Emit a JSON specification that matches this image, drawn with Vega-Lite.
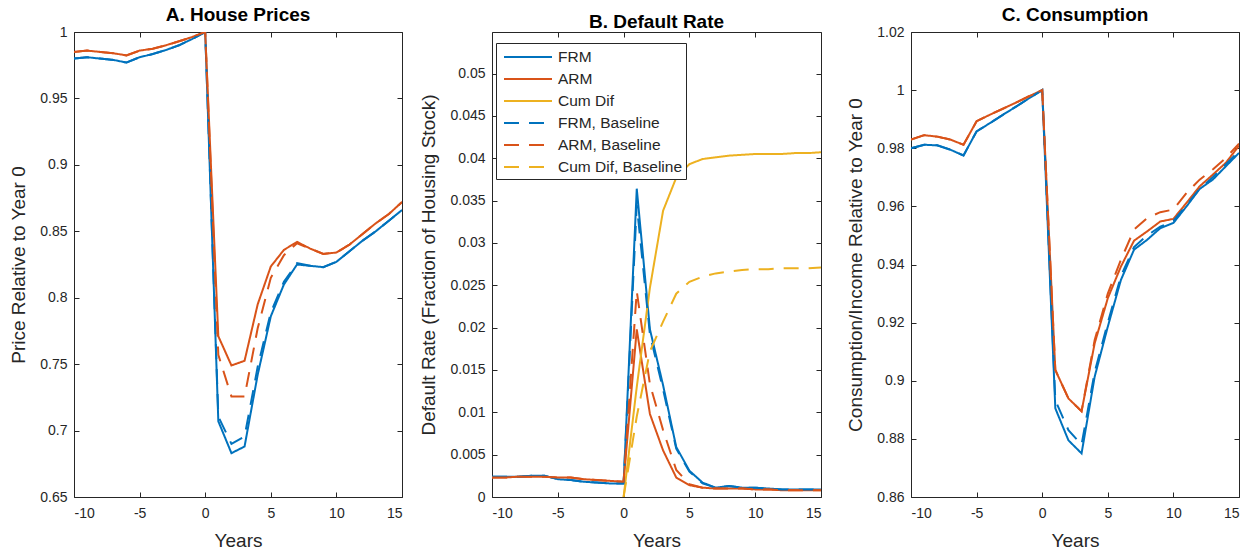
{
  "$schema": "https://vega.github.io/schema/vega-lite/v6.json",
  "background": "white",
  "padding": {"left": 9, "top": 5, "right": 0, "bottom": 0},
  "bounds": "flush",
  "spacing": 90,
  "config": {
    "font": "Liberation Sans",
    "view": {"stroke": "#262626", "strokeWidth": 1},
    "axis": {
      "domain": false,
      "grid": false,
      "ticks": true,
      "tickSize": -5,
      "tickColor": "#262626",
      "labelColor": "#262626",
      "labelFontSize": 14,
      "labelPadding": 12,
      "titleColor": "#262626",
      "titleFontSize": 19,
      "titleFontWeight": "normal"
    },
    "axisBottom": {"labelPadding": 14}
  },
  "datasets": {
    "A": [
      {"s":"FRM","x":-10,"y":0.980},{"s":"FRM","x":-9,"y":0.981},{"s":"FRM","x":-8,"y":0.980},{"s":"FRM","x":-7,"y":0.979},{"s":"FRM","x":-6,"y":0.977},{"s":"FRM","x":-5,"y":0.981},{"s":"FRM","x":-4,"y":0.9834},{"s":"FRM","x":-3,"y":0.9864},{"s":"FRM","x":-2,"y":0.990},{"s":"FRM","x":-1,"y":0.9947},{"s":"FRM","x":0,"y":1.0},{"s":"FRM","x":1,"y":0.707},{"s":"FRM","x":2,"y":0.683},{"s":"FRM","x":3,"y":0.688},{"s":"FRM","x":4,"y":0.742},{"s":"FRM","x":5,"y":0.786},{"s":"FRM","x":6,"y":0.810},{"s":"FRM","x":7,"y":0.825},{"s":"FRM","x":8,"y":0.824},{"s":"FRM","x":9,"y":0.823},{"s":"FRM","x":10,"y":0.827},{"s":"FRM","x":11,"y":0.835},{"s":"FRM","x":12,"y":0.843},{"s":"FRM","x":13,"y":0.850},{"s":"FRM","x":14,"y":0.858},{"s":"FRM","x":15,"y":0.866},
      {"s":"ARM","x":-10,"y":0.985},{"s":"ARM","x":-9,"y":0.986},{"s":"ARM","x":-8,"y":0.985},{"s":"ARM","x":-7,"y":0.984},{"s":"ARM","x":-6,"y":0.9824},{"s":"ARM","x":-5,"y":0.986},{"s":"ARM","x":-4,"y":0.9874},{"s":"ARM","x":-3,"y":0.990},{"s":"ARM","x":-2,"y":0.993},{"s":"ARM","x":-1,"y":0.9962},{"s":"ARM","x":0,"y":1.0},{"s":"ARM","x":1,"y":0.771},{"s":"ARM","x":2,"y":0.749},{"s":"ARM","x":3,"y":0.7525},{"s":"ARM","x":4,"y":0.795},{"s":"ARM","x":5,"y":0.8235},{"s":"ARM","x":6,"y":0.836},{"s":"ARM","x":7,"y":0.842},{"s":"ARM","x":8,"y":0.837},{"s":"ARM","x":9,"y":0.833},{"s":"ARM","x":10,"y":0.834},{"s":"ARM","x":11,"y":0.840},{"s":"ARM","x":12,"y":0.848},{"s":"ARM","x":13,"y":0.856},{"s":"ARM","x":14,"y":0.863},{"s":"ARM","x":15,"y":0.872},
      {"s":"FRM, Baseline","x":-10,"y":0.980},{"s":"FRM, Baseline","x":-9,"y":0.981},{"s":"FRM, Baseline","x":-8,"y":0.980},{"s":"FRM, Baseline","x":-7,"y":0.979},{"s":"FRM, Baseline","x":-6,"y":0.977},{"s":"FRM, Baseline","x":-5,"y":0.981},{"s":"FRM, Baseline","x":-4,"y":0.9834},{"s":"FRM, Baseline","x":-3,"y":0.9864},{"s":"FRM, Baseline","x":-2,"y":0.990},{"s":"FRM, Baseline","x":-1,"y":0.9947},{"s":"FRM, Baseline","x":0,"y":1.0},{"s":"FRM, Baseline","x":1,"y":0.7106},{"s":"FRM, Baseline","x":2,"y":0.690},{"s":"FRM, Baseline","x":3,"y":0.6955},{"s":"FRM, Baseline","x":4,"y":0.748},{"s":"FRM, Baseline","x":5,"y":0.789},{"s":"FRM, Baseline","x":6,"y":0.812},{"s":"FRM, Baseline","x":7,"y":0.826},{"s":"FRM, Baseline","x":8,"y":0.824},{"s":"FRM, Baseline","x":9,"y":0.823},{"s":"FRM, Baseline","x":10,"y":0.827},{"s":"FRM, Baseline","x":11,"y":0.835},{"s":"FRM, Baseline","x":12,"y":0.843},{"s":"FRM, Baseline","x":13,"y":0.850},{"s":"FRM, Baseline","x":14,"y":0.858},{"s":"FRM, Baseline","x":15,"y":0.866},
      {"s":"ARM, Baseline","x":-10,"y":0.985},{"s":"ARM, Baseline","x":-9,"y":0.986},{"s":"ARM, Baseline","x":-8,"y":0.985},{"s":"ARM, Baseline","x":-7,"y":0.984},{"s":"ARM, Baseline","x":-6,"y":0.9824},{"s":"ARM, Baseline","x":-5,"y":0.986},{"s":"ARM, Baseline","x":-4,"y":0.9874},{"s":"ARM, Baseline","x":-3,"y":0.990},{"s":"ARM, Baseline","x":-2,"y":0.993},{"s":"ARM, Baseline","x":-1,"y":0.9962},{"s":"ARM, Baseline","x":0,"y":1.0},{"s":"ARM, Baseline","x":1,"y":0.757},{"s":"ARM, Baseline","x":2,"y":0.7256},{"s":"ARM, Baseline","x":3,"y":0.7256},{"s":"ARM, Baseline","x":4,"y":0.777},{"s":"ARM, Baseline","x":5,"y":0.815},{"s":"ARM, Baseline","x":6,"y":0.832},{"s":"ARM, Baseline","x":7,"y":0.841},{"s":"ARM, Baseline","x":8,"y":0.837},{"s":"ARM, Baseline","x":9,"y":0.833},{"s":"ARM, Baseline","x":10,"y":0.834},{"s":"ARM, Baseline","x":11,"y":0.840},{"s":"ARM, Baseline","x":12,"y":0.848},{"s":"ARM, Baseline","x":13,"y":0.856},{"s":"ARM, Baseline","x":14,"y":0.863},{"s":"ARM, Baseline","x":15,"y":0.872}
    ],
    "B": [
      {"s":"FRM","x":-10,"y":0.0024},{"s":"FRM","x":-9,"y":0.0024},{"s":"FRM","x":-8,"y":0.0024},{"s":"FRM","x":-7,"y":0.0025},{"s":"FRM","x":-6,"y":0.0025},{"s":"FRM","x":-5,"y":0.0021},{"s":"FRM","x":-4,"y":0.0020},{"s":"FRM","x":-3,"y":0.0018},{"s":"FRM","x":-2,"y":0.0017},{"s":"FRM","x":-1,"y":0.0016},{"s":"FRM","x":0,"y":0.0016},{"s":"FRM","x":1,"y":0.0364},{"s":"FRM","x":2,"y":0.0198},{"s":"FRM","x":3,"y":0.0132},{"s":"FRM","x":4,"y":0.0059},{"s":"FRM","x":5,"y":0.0031},{"s":"FRM","x":6,"y":0.0017},{"s":"FRM","x":7,"y":0.0011},{"s":"FRM","x":8,"y":0.0013},{"s":"FRM","x":9,"y":0.0011},{"s":"FRM","x":10,"y":0.0011},{"s":"FRM","x":11,"y":0.0010},{"s":"FRM","x":12,"y":0.0009},{"s":"FRM","x":13,"y":0.0009},{"s":"FRM","x":14,"y":0.0009},{"s":"FRM","x":15,"y":0.0009},
      {"s":"ARM","x":-10,"y":0.0023},{"s":"ARM","x":-9,"y":0.0023},{"s":"ARM","x":-8,"y":0.0024},{"s":"ARM","x":-7,"y":0.0024},{"s":"ARM","x":-6,"y":0.0024},{"s":"ARM","x":-5,"y":0.0023},{"s":"ARM","x":-4,"y":0.0023},{"s":"ARM","x":-3,"y":0.0021},{"s":"ARM","x":-2,"y":0.0020},{"s":"ARM","x":-1,"y":0.0019},{"s":"ARM","x":0,"y":0.0018},{"s":"ARM","x":1,"y":0.0198},{"s":"ARM","x":2,"y":0.0098},{"s":"ARM","x":3,"y":0.0055},{"s":"ARM","x":4,"y":0.0023},{"s":"ARM","x":5,"y":0.0014},{"s":"ARM","x":6,"y":0.0011},{"s":"ARM","x":7,"y":0.0010},{"s":"ARM","x":8,"y":0.0010},{"s":"ARM","x":9,"y":0.0010},{"s":"ARM","x":10,"y":0.0009},{"s":"ARM","x":11,"y":0.0009},{"s":"ARM","x":12,"y":0.0008},{"s":"ARM","x":13,"y":0.0008},{"s":"ARM","x":14,"y":0.0008},{"s":"ARM","x":15,"y":0.0008},
      {"s":"Cum Dif","x":0,"y":0.0},{"s":"Cum Dif","x":1,"y":0.0130},{"s":"Cum Dif","x":2,"y":0.0247},{"s":"Cum Dif","x":3,"y":0.0338},{"s":"Cum Dif","x":4,"y":0.0377},{"s":"Cum Dif","x":5,"y":0.0393},{"s":"Cum Dif","x":6,"y":0.0399},{"s":"Cum Dif","x":7,"y":0.0401},{"s":"Cum Dif","x":8,"y":0.0403},{"s":"Cum Dif","x":9,"y":0.0404},{"s":"Cum Dif","x":10,"y":0.0405},{"s":"Cum Dif","x":11,"y":0.0405},{"s":"Cum Dif","x":12,"y":0.0405},{"s":"Cum Dif","x":13,"y":0.0406},{"s":"Cum Dif","x":14,"y":0.0406},{"s":"Cum Dif","x":15,"y":0.0407},
      {"s":"FRM, Baseline","x":-10,"y":0.0024},{"s":"FRM, Baseline","x":-9,"y":0.0024},{"s":"FRM, Baseline","x":-8,"y":0.0024},{"s":"FRM, Baseline","x":-7,"y":0.0025},{"s":"FRM, Baseline","x":-6,"y":0.0025},{"s":"FRM, Baseline","x":-5,"y":0.0021},{"s":"FRM, Baseline","x":-4,"y":0.0020},{"s":"FRM, Baseline","x":-3,"y":0.0018},{"s":"FRM, Baseline","x":-2,"y":0.0017},{"s":"FRM, Baseline","x":-1,"y":0.0016},{"s":"FRM, Baseline","x":0,"y":0.0016},{"s":"FRM, Baseline","x":1,"y":0.0345},{"s":"FRM, Baseline","x":2,"y":0.0192},{"s":"FRM, Baseline","x":3,"y":0.0127},{"s":"FRM, Baseline","x":4,"y":0.0057},{"s":"FRM, Baseline","x":5,"y":0.0030},{"s":"FRM, Baseline","x":6,"y":0.0016},{"s":"FRM, Baseline","x":7,"y":0.0011},{"s":"FRM, Baseline","x":8,"y":0.0013},{"s":"FRM, Baseline","x":9,"y":0.0011},{"s":"FRM, Baseline","x":10,"y":0.0011},{"s":"FRM, Baseline","x":11,"y":0.0010},{"s":"FRM, Baseline","x":12,"y":0.0009},{"s":"FRM, Baseline","x":13,"y":0.0009},{"s":"FRM, Baseline","x":14,"y":0.0009},{"s":"FRM, Baseline","x":15,"y":0.0009},
      {"s":"ARM, Baseline","x":-10,"y":0.0023},{"s":"ARM, Baseline","x":-9,"y":0.0023},{"s":"ARM, Baseline","x":-8,"y":0.0024},{"s":"ARM, Baseline","x":-7,"y":0.0024},{"s":"ARM, Baseline","x":-6,"y":0.0024},{"s":"ARM, Baseline","x":-5,"y":0.0023},{"s":"ARM, Baseline","x":-4,"y":0.0023},{"s":"ARM, Baseline","x":-3,"y":0.0021},{"s":"ARM, Baseline","x":-2,"y":0.0020},{"s":"ARM, Baseline","x":-1,"y":0.0019},{"s":"ARM, Baseline","x":0,"y":0.0018},{"s":"ARM, Baseline","x":1,"y":0.0243},{"s":"ARM, Baseline","x":2,"y":0.0133},{"s":"ARM, Baseline","x":3,"y":0.0079},{"s":"ARM, Baseline","x":4,"y":0.0032},{"s":"ARM, Baseline","x":5,"y":0.0015},{"s":"ARM, Baseline","x":6,"y":0.0011},{"s":"ARM, Baseline","x":7,"y":0.0010},{"s":"ARM, Baseline","x":8,"y":0.0010},{"s":"ARM, Baseline","x":9,"y":0.0010},{"s":"ARM, Baseline","x":10,"y":0.0009},{"s":"ARM, Baseline","x":11,"y":0.0009},{"s":"ARM, Baseline","x":12,"y":0.0008},{"s":"ARM, Baseline","x":13,"y":0.0008},{"s":"ARM, Baseline","x":14,"y":0.0008},{"s":"ARM, Baseline","x":15,"y":0.0008},
      {"s":"Cum Dif, Baseline","x":0,"y":0.0},{"s":"Cum Dif, Baseline","x":1,"y":0.0095},{"s":"Cum Dif, Baseline","x":2,"y":0.0172},{"s":"Cum Dif, Baseline","x":3,"y":0.0207},{"s":"Cum Dif, Baseline","x":4,"y":0.0240},{"s":"Cum Dif, Baseline","x":5,"y":0.0254},{"s":"Cum Dif, Baseline","x":6,"y":0.0260},{"s":"Cum Dif, Baseline","x":7,"y":0.0264},{"s":"Cum Dif, Baseline","x":8,"y":0.0266},{"s":"Cum Dif, Baseline","x":9,"y":0.0268},{"s":"Cum Dif, Baseline","x":10,"y":0.0269},{"s":"Cum Dif, Baseline","x":11,"y":0.0269},{"s":"Cum Dif, Baseline","x":12,"y":0.0270},{"s":"Cum Dif, Baseline","x":13,"y":0.0270},{"s":"Cum Dif, Baseline","x":14,"y":0.0270},{"s":"Cum Dif, Baseline","x":15,"y":0.0271}
    ],
    "C": [
      {"s":"FRM","x":-10,"y":0.980},{"s":"FRM","x":-9,"y":0.9812},{"s":"FRM","x":-8,"y":0.981},{"s":"FRM","x":-7,"y":0.9795},{"s":"FRM","x":-6,"y":0.9775},{"s":"FRM","x":-5,"y":0.9858},{"s":"FRM","x":-4,"y":0.9886},{"s":"FRM","x":-3,"y":0.9915},{"s":"FRM","x":-2,"y":0.9943},{"s":"FRM","x":-1,"y":0.9972},{"s":"FRM","x":0,"y":1.0},{"s":"FRM","x":1,"y":0.8905},{"s":"FRM","x":2,"y":0.8795},{"s":"FRM","x":3,"y":0.875},{"s":"FRM","x":4,"y":0.9014},{"s":"FRM","x":5,"y":0.9186},{"s":"FRM","x":6,"y":0.9347},{"s":"FRM","x":7,"y":0.9451},{"s":"FRM","x":8,"y":0.9485},{"s":"FRM","x":9,"y":0.9525},{"s":"FRM","x":10,"y":0.9543},{"s":"FRM","x":11,"y":0.960},{"s":"FRM","x":12,"y":0.966},{"s":"FRM","x":13,"y":0.9692},{"s":"FRM","x":14,"y":0.9738},{"s":"FRM","x":15,"y":0.9784},
      {"s":"ARM","x":-10,"y":0.983},{"s":"ARM","x":-9,"y":0.9845},{"s":"ARM","x":-8,"y":0.984},{"s":"ARM","x":-7,"y":0.983},{"s":"ARM","x":-6,"y":0.9812},{"s":"ARM","x":-5,"y":0.9893},{"s":"ARM","x":-4,"y":0.9915},{"s":"ARM","x":-3,"y":0.9936},{"s":"ARM","x":-2,"y":0.9957},{"s":"ARM","x":-1,"y":0.9979},{"s":"ARM","x":0,"y":1.0},{"s":"ARM","x":1,"y":0.9037},{"s":"ARM","x":2,"y":0.8939},{"s":"ARM","x":3,"y":0.8895},{"s":"ARM","x":4,"y":0.9129},{"s":"ARM","x":5,"y":0.9284},{"s":"ARM","x":6,"y":0.9393},{"s":"ARM","x":7,"y":0.9482},{"s":"ARM","x":8,"y":0.9514},{"s":"ARM","x":9,"y":0.9548},{"s":"ARM","x":10,"y":0.9557},{"s":"ARM","x":11,"y":0.9612},{"s":"ARM","x":12,"y":0.9669},{"s":"ARM","x":13,"y":0.9709},{"s":"ARM","x":14,"y":0.975},{"s":"ARM","x":15,"y":0.9809},
      {"s":"FRM, Baseline","x":-10,"y":0.980},{"s":"FRM, Baseline","x":-9,"y":0.9812},{"s":"FRM, Baseline","x":-8,"y":0.981},{"s":"FRM, Baseline","x":-7,"y":0.9795},{"s":"FRM, Baseline","x":-6,"y":0.9775},{"s":"FRM, Baseline","x":-5,"y":0.9858},{"s":"FRM, Baseline","x":-4,"y":0.9886},{"s":"FRM, Baseline","x":-3,"y":0.9915},{"s":"FRM, Baseline","x":-2,"y":0.9943},{"s":"FRM, Baseline","x":-1,"y":0.9972},{"s":"FRM, Baseline","x":0,"y":1.0},{"s":"FRM, Baseline","x":1,"y":0.8933},{"s":"FRM, Baseline","x":2,"y":0.8830},{"s":"FRM, Baseline","x":3,"y":0.8780},{"s":"FRM, Baseline","x":4,"y":0.903},{"s":"FRM, Baseline","x":5,"y":0.920},{"s":"FRM, Baseline","x":6,"y":0.936},{"s":"FRM, Baseline","x":7,"y":0.946},{"s":"FRM, Baseline","x":8,"y":0.950},{"s":"FRM, Baseline","x":9,"y":0.953},{"s":"FRM, Baseline","x":10,"y":0.955},{"s":"FRM, Baseline","x":11,"y":0.9605},{"s":"FRM, Baseline","x":12,"y":0.966},{"s":"FRM, Baseline","x":13,"y":0.970},{"s":"FRM, Baseline","x":14,"y":0.9745},{"s":"FRM, Baseline","x":15,"y":0.979},
      {"s":"ARM, Baseline","x":-10,"y":0.983},{"s":"ARM, Baseline","x":-9,"y":0.9845},{"s":"ARM, Baseline","x":-8,"y":0.984},{"s":"ARM, Baseline","x":-7,"y":0.983},{"s":"ARM, Baseline","x":-6,"y":0.9812},{"s":"ARM, Baseline","x":-5,"y":0.9893},{"s":"ARM, Baseline","x":-4,"y":0.9915},{"s":"ARM, Baseline","x":-3,"y":0.9936},{"s":"ARM, Baseline","x":-2,"y":0.9957},{"s":"ARM, Baseline","x":-1,"y":0.9979},{"s":"ARM, Baseline","x":0,"y":1.0},{"s":"ARM, Baseline","x":1,"y":0.9037},{"s":"ARM, Baseline","x":2,"y":0.8939},{"s":"ARM, Baseline","x":3,"y":0.8895},{"s":"ARM, Baseline","x":4,"y":0.914},{"s":"ARM, Baseline","x":5,"y":0.930},{"s":"ARM, Baseline","x":6,"y":0.9416},{"s":"ARM, Baseline","x":7,"y":0.952},{"s":"ARM, Baseline","x":8,"y":0.956},{"s":"ARM, Baseline","x":9,"y":0.958},{"s":"ARM, Baseline","x":10,"y":0.9589},{"s":"ARM, Baseline","x":11,"y":0.9646},{"s":"ARM, Baseline","x":12,"y":0.9692},{"s":"ARM, Baseline","x":13,"y":0.9727},{"s":"ARM, Baseline","x":14,"y":0.9767},{"s":"ARM, Baseline","x":15,"y":0.9816}
    ]
  },
  "resolve": {"scale": {"color": "independent", "strokeDash": "independent"}},
  "hconcat": [
    {
      "width": 328, "height": 465,
      "data": {"name": "A"},
      "title": {"text": "A. House Prices", "fontSize": 19, "fontWeight": "bold", "frame": "group", "offset": 0, "color": "black"},
      "resolve": {"axis": {"x": "independent", "y": "independent"}},
      "layer": [
        {
          "mark": {"type": "line", "strokeWidth": 2, "clip": true},
          "encoding": {
            "x": {"field": "x", "type": "quantitative", "scale": {"domain": [-10, 15], "nice": false, "zero": false}, "axis": {"orient": "bottom", "values": [-10, -5, 0, 5, 10, 15], "labelExpr": "'' + datum.value", "title": "Years", "titlePadding": 11}},
            "y": {"field": "y", "type": "quantitative", "scale": {"domain": [0.65, 1], "nice": false, "zero": false}, "axis": {"orient": "left", "values": [0.65, 0.7, 0.75, 0.8, 0.85, 0.9, 0.95, 1], "labelExpr": "'' + datum.value", "title": "Price Relative to Year 0", "titlePadding": 11}},
            "color": {"field": "s", "type": "nominal", "sort": null, "legend": null, "scale": {"domain": ["FRM", "ARM", "Cum Dif", "FRM, Baseline", "ARM, Baseline", "Cum Dif, Baseline"], "range": ["#0072BD", "#D95319", "#EDB120", "#0072BD", "#D95319", "#EDB120"]}},
            "strokeDash": {"field": "s", "type": "nominal", "sort": null, "legend": null, "scale": {"domain": ["FRM", "ARM", "Cum Dif", "FRM, Baseline", "ARM, Baseline", "Cum Dif, Baseline"], "range": [[1, 0], [1, 0], [1, 0], [15, 10], [15, 10], [15, 10]]}}
          }
        },
        {
          "mark": {"type": "line", "strokeOpacity": 0},
          "encoding": {
            "x": {"field": "x", "type": "quantitative", "axis": {"orient": "top", "values": [-10, -5, 0, 5, 10, 15], "labels": false, "title": null}},
            "y": {"field": "y", "type": "quantitative", "axis": {"orient": "right", "values": [0.65, 0.7, 0.75, 0.8, 0.85, 0.9, 0.95, 1], "labels": false, "title": null}}
          }
        }
      ]
    },
    {
      "width": 329, "height": 465,
      "data": {"name": "B"},
      "title": {"text": "B. Default Rate", "fontSize": 19, "fontWeight": "bold", "frame": "group", "offset": 0, "color": "black"},
      "resolve": {"axis": {"x": "independent", "y": "independent"}},
      "layer": [
        {
          "mark": {"type": "line", "strokeWidth": 2, "clip": true},
          "encoding": {
            "x": {"field": "x", "type": "quantitative", "scale": {"domain": [-10, 15], "nice": false, "zero": false}, "axis": {"orient": "bottom", "values": [-10, -5, 0, 5, 10, 15], "labelExpr": "'' + datum.value", "title": "Years", "titlePadding": 11}},
            "y": {"field": "y", "type": "quantitative", "scale": {"domain": [0, 0.0549], "nice": false, "zero": false}, "axis": {"orient": "left", "values": [0, 0.005, 0.01, 0.015, 0.02, 0.025, 0.03, 0.035, 0.04, 0.045, 0.05], "labelExpr": "'' + datum.value", "title": "Default Rate (Fraction of Housing Stock)", "titlePadding": 11}},
            "color": {"field": "s", "type": "nominal", "sort": null, "title": null, "scale": {"domain": ["FRM", "ARM", "Cum Dif", "FRM, Baseline", "ARM, Baseline", "Cum Dif, Baseline"], "range": ["#0072BD", "#D95319", "#EDB120", "#0072BD", "#D95319", "#EDB120"]},
              "legend": {"orient": "none", "legendX": 4, "legendY": 11, "title": null, "fillColor": "white", "strokeColor": "#262626", "padding": 3, "symbolType": "M-0.6,0H4.2", "symbolSize": 400, "symbolStrokeWidth": 2, "labelOffset": 37, "labelFontSize": 15.5, "labelColor": "#262626", "rowPadding": 2, "labelLimit": 300}},
            "strokeDash": {"field": "s", "type": "nominal", "sort": null, "title": null, "scale": {"domain": ["FRM", "ARM", "Cum Dif", "FRM, Baseline", "ARM, Baseline", "Cum Dif, Baseline"], "range": [[1, 0], [1, 0], [1, 0], [15, 10], [15, 10], [15, 10]]},
              "legend": {"orient": "none", "legendX": 4, "legendY": 11, "title": null, "fillColor": "white", "strokeColor": "#262626", "padding": 3, "symbolType": "M-0.6,0H4.2", "symbolSize": 400, "symbolStrokeWidth": 2, "labelOffset": 37, "labelFontSize": 15.5, "labelColor": "#262626", "rowPadding": 2, "labelLimit": 300}}
          }
        },
        {
          "mark": {"type": "line", "strokeOpacity": 0},
          "encoding": {
            "x": {"field": "x", "type": "quantitative", "axis": {"orient": "top", "values": [-10, -5, 0, 5, 10, 15], "labels": false, "title": null}},
            "y": {"field": "y", "type": "quantitative", "axis": {"orient": "right", "values": [0, 0.005, 0.01, 0.015, 0.02, 0.025, 0.03, 0.035, 0.04, 0.045, 0.05], "labels": false, "title": null}}
          }
        }
      ]
    },
    {
      "width": 328, "height": 465,
      "data": {"name": "C"},
      "title": {"text": "C. Consumption", "fontSize": 19, "fontWeight": "bold", "frame": "group", "offset": 0, "color": "black"},
      "resolve": {"axis": {"x": "independent", "y": "independent"}},
      "layer": [
        {
          "mark": {"type": "line", "strokeWidth": 2, "clip": true},
          "encoding": {
            "x": {"field": "x", "type": "quantitative", "scale": {"domain": [-10, 15], "nice": false, "zero": false}, "axis": {"orient": "bottom", "values": [-10, -5, 0, 5, 10, 15], "labelExpr": "'' + datum.value", "title": "Years", "titlePadding": 11}},
            "y": {"field": "y", "type": "quantitative", "scale": {"domain": [0.86, 1.02], "nice": false, "zero": false}, "axis": {"orient": "left", "values": [0.86, 0.88, 0.9, 0.92, 0.94, 0.96, 0.98, 1, 1.02], "labelExpr": "'' + datum.value", "title": "Consumption/Income Relative to Year 0", "titlePadding": 11}},
            "color": {"field": "s", "type": "nominal", "sort": null, "legend": null, "scale": {"domain": ["FRM", "ARM", "Cum Dif", "FRM, Baseline", "ARM, Baseline", "Cum Dif, Baseline"], "range": ["#0072BD", "#D95319", "#EDB120", "#0072BD", "#D95319", "#EDB120"]}},
            "strokeDash": {"field": "s", "type": "nominal", "sort": null, "legend": null, "scale": {"domain": ["FRM", "ARM", "Cum Dif", "FRM, Baseline", "ARM, Baseline", "Cum Dif, Baseline"], "range": [[1, 0], [1, 0], [1, 0], [15, 10], [15, 10], [15, 10]]}}
          }
        },
        {
          "mark": {"type": "line", "strokeOpacity": 0},
          "encoding": {
            "x": {"field": "x", "type": "quantitative", "axis": {"orient": "top", "values": [-10, -5, 0, 5, 10, 15], "labels": false, "title": null}},
            "y": {"field": "y", "type": "quantitative", "axis": {"orient": "right", "values": [0.86, 0.88, 0.9, 0.92, 0.94, 0.96, 0.98, 1, 1.02], "labels": false, "title": null}}
          }
        }
      ]
    }
  ]
}
